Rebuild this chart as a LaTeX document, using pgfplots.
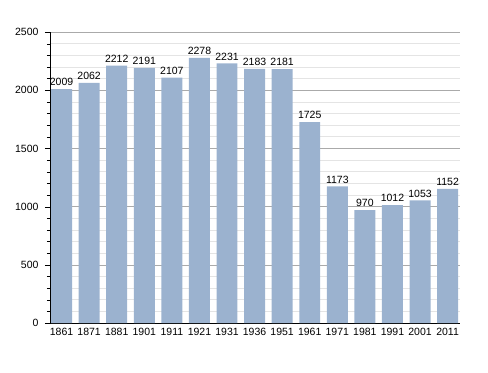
\documentclass[border=0pt]{standalone}
\usepackage{fontspec}
\setmainfont{Liberation Sans}
\usepackage{pgfplots}
\pgfplotsset{compat=1.18}
\definecolor{barblue}{RGB}{155,178,207}
\begin{document}
\begin{tikzpicture}
\path[use as bounding box] (-50bp,-50bp) rectangle (438bp,323bp);
\begin{axis}[
  at={(0,0)}, anchor=south west,
  scale only axis,
  width=410bp, height=291bp,
  xmin=-0.42, xmax=14.45,
  ymin=0, ymax=2500,
  axis x line*=bottom,
  axis y line*=left,
  xtick={0,...,14},
  xticklabels={1861,1871,1881,1901,1911,1921,1931,1936,1951,1961,1971,1981,1991,2001,2011},
  x tick style={draw=none},
  x tick label style={yshift=3bp},
  ytick={0,500,1000,1500,2000,2500},
  minor y tick num=4,
  y tick style={black},
  tick align=outside,
  major tick length=5bp,
  minor tick length=3bp,
  ymajorgrids, yminorgrids,
  major grid style={draw={rgb,255:red,170;green,170;blue,170}, line width=0.6bp},
  minor grid style={draw={rgb,255:red,228;green,228;blue,228}, line width=0.6bp},
  axis line style={black, line width=0.8bp},
  /pgf/number format/assume math mode=true,
  /pgf/number format/1000 sep={},
  tick label style={font=\fontsize{10.5bp}{12bp}\selectfont},
  y tick label style={xshift=-3bp},
  ybar, bar width=0.76,
  nodes near coords,
  nodes near coords style={font=\fontsize{10.5bp}{12bp}\selectfont, black, inner sep=3bp, /pgf/number format/assume math mode=true, /pgf/number format/1000 sep={}},
]
\addplot[fill=barblue, draw=none] coordinates {
(0,2009) (1,2062) (2,2212) (3,2191) (4,2107) (5,2278) (6,2231) (7,2183)
(8,2181) (9,1725) (10,1173) (11,970) (12,1012) (13,1053) (14,1152)};
\end{axis}
\end{tikzpicture}
\end{document}
